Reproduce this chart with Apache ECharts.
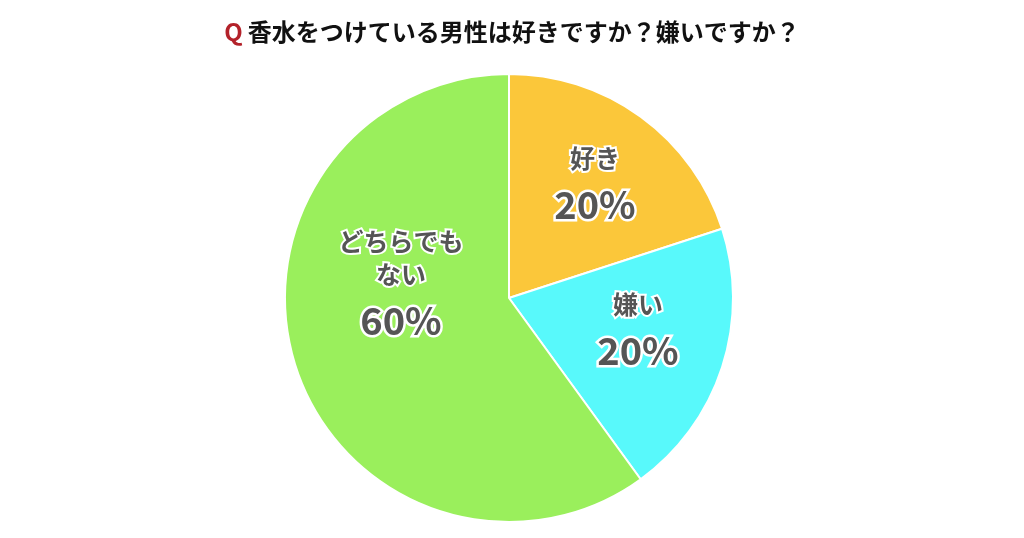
<!DOCTYPE html>
<html><head><meta charset="utf-8">
<script src="https://cdn.jsdelivr.net/npm/echarts@6/dist/echarts.min.js"></script>
<style>html,body{margin:0;padding:0;background:#fff}#c{width:1024px;height:538px}</style>
</head><body><div id="c"></div>
<script>
const categories = ['好き', '嫌い', 'どちらでもない'];
const values = [20, 20, 60];
const colors = ['#FBC73A', '#58F9FB', '#9AEF5C'];
const labelCenters = [[595, 188], [638, 334], [401, 288]];

const chart = echarts.init(document.getElementById('c'));
chart.setOption({
  backgroundColor: '#fff',
  title: {
    text: '{q|Q} {t|香水をつけている男性は好きですか？嫌いですか？}',
    left: 'center', top: 15,
    textStyle: {
      rich: {
        q: { color: '#B3222A', fontSize: 24, fontWeight: 'bold', fontFamily: 'Noto Sans CJK JP' },
        t: { color: '#111', fontSize: 24, fontWeight: 'bold', fontFamily: 'Noto Sans CJK JP' }
      }
    }
  },
  series: [{
    type: 'pie',
    center: [509, 298],
    radius: 224,
    startAngle: 90,
    clockwise: true,
    silent: true,
    itemStyle: { borderColor: '#fff', borderWidth: 2 },
    label: {
      show: true,
      position: 'inside',
      formatter: p => {
        const n = p.name.length > 5 ? p.name.slice(0, 5) + '\n' + p.name.slice(5) : p.name;
        return n.split('\n').map(s => '{n|' + s + '}').join('\n') + '\n{p|' + p.value + '%}';
      },
      align: 'center',
      verticalAlign: 'middle',
      rich: {
        n: { fontSize: 25, lineHeight: 33, color: '#555', fontWeight: 'bold', fontFamily: 'Noto Sans CJK JP', textBorderColor: '#fff', textBorderWidth: 4 },
        p: { fontSize: 38, lineHeight: 60, color: '#555', fontWeight: 'bold', fontFamily: 'Noto Sans CJK JP', textBorderColor: '#fff', textBorderWidth: 5 }
      }
    },
    labelLine: { show: false },
    labelLayout: params => ({ x: labelCenters[params.dataIndex][0], y: labelCenters[params.dataIndex][1] }),
    data: categories.map((c, i) => ({ name: c, value: values[i], itemStyle: { color: colors[i] } }))
  }]
});
</script></body></html>
